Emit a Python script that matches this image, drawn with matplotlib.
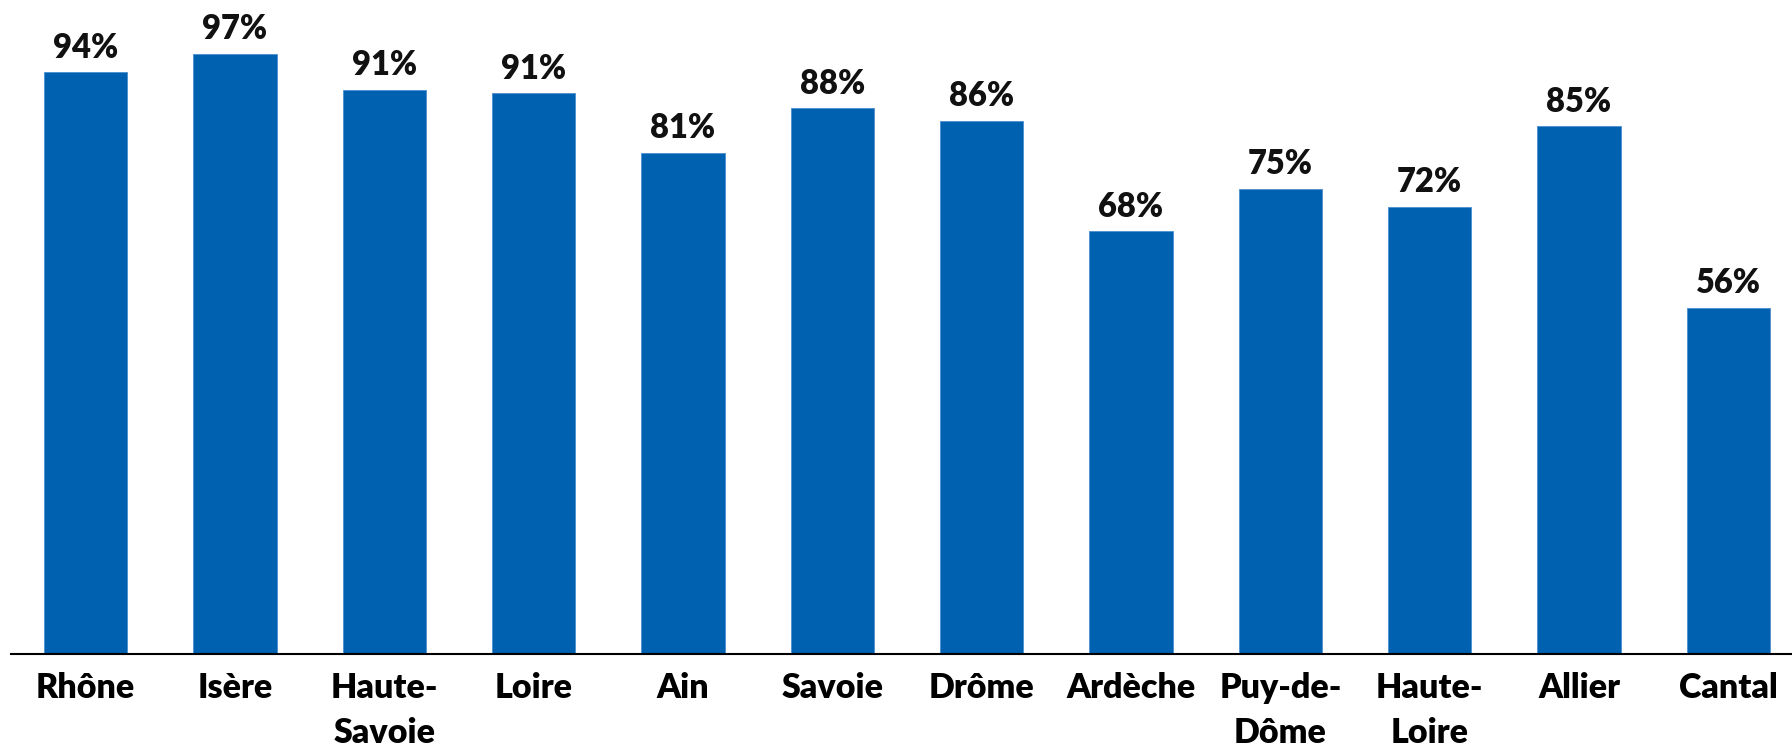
import matplotlib
matplotlib.use('Agg')
import matplotlib.pyplot as plt
import numpy as np

plt.rcParams['font.family'] = ['Lato', 'DejaVu Sans']

departements = ['Rhône', 'Isère', 'Haute-\nSavoie', 'Loire', 'Ain', 'Savoie', 'Drôme',
                'Ardèche', 'Puy-de-\nDôme', 'Haute-\nLoire', 'Allier', 'Cantal']
taux = [94.0, 97.0, 91.2, 90.6, 81.0, 88.2, 86.2, 68.3, 75.2, 72.3, 85.3, 56.0]

fig = plt.figure(figsize=(17.92, 7.49), dpi=100)
ax = fig.add_axes([11/1792, 95/749, (1803-11)/1792, 654/749])

x = np.arange(len(departements))
bars = ax.bar(x, taux, width=0.56, color='#0061B0', edgecolor='#4A8FD0', linewidth=0.6)

for b, v in zip(bars, taux):
    ax.annotate(f'{v:.0f}%', (b.get_x() + b.get_width()/2, v), xytext=(0, 6),
                textcoords='offset points', ha='center', va='bottom',
                fontsize=23.5, fontweight='heavy', color='#111111')

ax.set_xlim(-0.5, 11.5)
ax.set_ylim(0, 105.7)
ax.set_xticks(x)
ax.set_xticklabels(departements, fontsize=24.5, fontweight='heavy', linespacing=1.5)
ax.tick_params(axis='x', length=0, pad=13)
ax.set_yticks([])
for s in ['top', 'right', 'left']:
    ax.spines[s].set_visible(False)
ax.spines['bottom'].set_linewidth(1.5)

plt.savefig('out.png', dpi=100)
